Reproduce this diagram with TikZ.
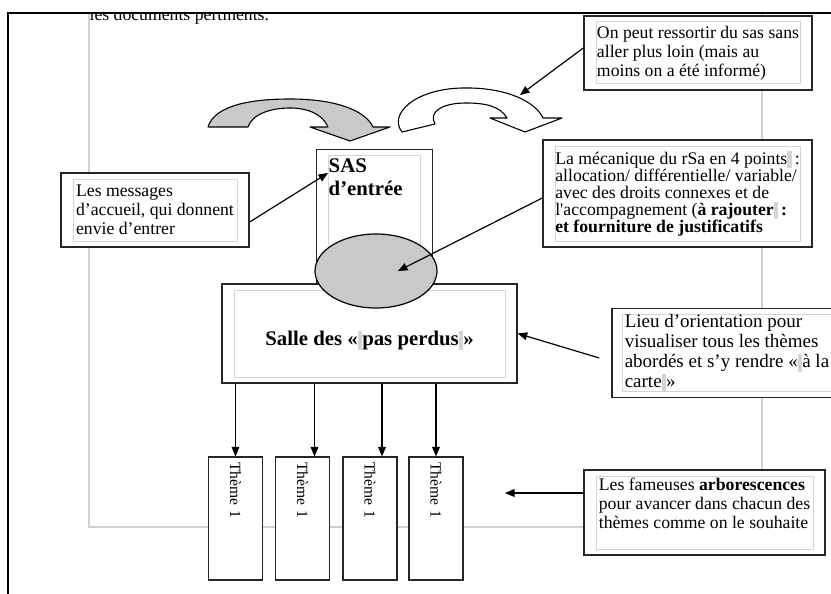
\documentclass[tikz,border=0pt]{standalone}
\usepackage{fontspec}
\setmainfont{Liberation Serif}
\usepackage{tikz}
\usetikzlibrary{positioning, calc, arrows, shapes}
\tikzset{>=triangle 45}
\definecolor{boxline}{gray}{0.15}
\definecolor{innergray}{gray}{0.83}
\definecolor{pagegray}{gray}{0.82}
\definecolor{shapegray}{gray}{0.79}
\newcommand{\bodysize}{\fontsize{17.7}{19}\selectfont}
\newcommand{\headsize}{\fontsize{20.8}{23}\selectfont\bfseries}
\newcommand{\fieldmark}{{\color{innergray}\rule[-0.22em]{4.5pt}{0.95em}}}

\begin{document}
\begin{tikzpicture}
    [x=1pt, y=-1pt, line width=1.2pt,
      callout/.style={draw=boxline, line width=1.4pt, fill=white, align=left,
        inner xsep=#1, inner ysep=6pt, font=\bodysize,
        path picture={\draw[innergray, line width=1pt]
          ([xshift=#1, yshift=-6pt]path picture bounding box.north west) rectangle
          ([xshift=-#1, yshift=6pt]path picture bounding box.south east);}},
      callout/.default=12pt,
      theme/.style={draw=boxline, fill=white, rotate=-90, minimum width=123pt,
        minimum height=54pt, text width=113pt, inner xsep=5pt, align=left,
        font=\fontsize{15.6}{18}\selectfont},
      bend arrow/.style={draw=black, line width=1.1pt, line join=round}]

    \useasboundingbox (0,0) rectangle (831,594);

    \draw[pagegray, line width=1.5pt] (89,13) -- (89,527) -- (762,527) -- (762,13);
    \begin{scope}
      \clip (8,13.6) rectangle (831,594);
      \node[anchor=base west, inner sep=0pt, font=\bodysize] (carry) at (89,21) {les documents pertinents.};
    \end{scope}
    \draw[line width=1.3pt] (831,13) -- (8,13) -- (8,594);

    \draw[bend arrow, fill=shapegray] (208,127) .. controls (215,104) and (255,99) .. (290,99)
      .. controls (335,99) and (365,110) .. (373,127) -- (390,127) -- (350,141) -- (310,127) -- (328,127)
      .. controls (322,113) and (306,108) .. (290,108) .. controls (271,108) and (252,114) .. (248,127) -- cycle;
    \draw[bend arrow, fill=white] (402,132) .. controls (388,114) and (415,89) .. (462,88)
      .. controls (505,87) and (535,101) .. (543,118) -- (562,118) -- (525,132) -- (490,118) -- (507,118)
      .. controls (500,106) and (485,103) .. (466,103) .. controls (442,103) and (428,112) .. (435,124) -- cycle;
    \coordinate (rim) at (520,95);

    \node[callout, minimum width=228pt, minimum height=74pt] (onpeut) at (698,53)
      {On peut ressortir du sas sans\\aller plus loin (mais au\\moins on a été informé)};
    \node[callout, minimum width=188pt, minimum height=74pt] (messages) at (155,210)
      {Les messages\\d’accueil, qui donnent\\envie d’entrer};
    \node[callout, font=\fontsize{17.7}{17}\selectfont, minimum width=269pt, minimum height=107pt] (mecanique) at (677.5,193.5)
      {La mécanique du rSa en 4 points\fieldmark\,:\\allocation/ différentielle/ variable/\\avec des droits connexes et de\\l\textquotesingle accompagnement (\textbf{à rajouter}\fieldmark\,\textbf{:}\\\textbf{et fourniture de justificatifs}};
    \node[callout=10pt, font=\fontsize{19}{20}\selectfont, minimum width=230pt, minimum height=88pt] (lieu) at (727,353)
      {Lieu d’orientation pour\\visualiser tous les thèmes\\abordés et s’y rendre «\fieldmark à la\\carte\fieldmark»};
    \node[callout, minimum width=241pt, minimum height=85pt] (fameuses) at (704.5,512.5)
      {Les fameuses \textbf{arborescences}\\pour avancer dans chacun des\\thèmes comme on le souhaite\\\mbox{}};
    \coordinate (loose) at (505,493);

    \node[callout, anchor=north west, text width=92pt, font=\headsize, text height=17pt, text depth=112pt] (sas) at (316,149)
      {SAS\\d’entrée};
    \node[callout, font=\headsize, align=center, minimum width=295pt, minimum height=99pt, text height=29pt] (salle) at (369.5,333.5)
      {Salle des «\fieldmark pas perdus\fieldmark»};
    \node[ellipse, draw, fill=shapegray, minimum width=122pt, minimum height=74pt, inner sep=0pt] (disc) at (376,271) {};

    \foreach \n/\x in {1/235.5, 2/302.5, 3/370, 4/436}
      \node[theme] (t\n) at (\x,518.5) {Thème 1};

    \draw[->] ([yshift=5pt]onpeut.west) -- (rim);
    \draw[->] ([yshift=-12pt]messages.east) -- ([xshift=12pt, yshift=-24pt]sas.north west);
    \draw[->] ([yshift=-4.5pt]mecanique.west) -- ([xshift=22pt]disc.center);
    \draw[->] ([xshift=-12pt, yshift=-5pt]lieu.west) -- (salle.east);
    \draw[->] ([yshift=19.5pt]fameuses.west) -- (loose);
    \foreach \t/\dx in {t1/0, t2/12, t3/12, t4/0}{
      \coordinate (\t top) at ([xshift=\dx pt]\t.west);
      \draw[->] (\t top |- salle.south) -- (\t top);
    }
  \end{tikzpicture}
\end{document}
